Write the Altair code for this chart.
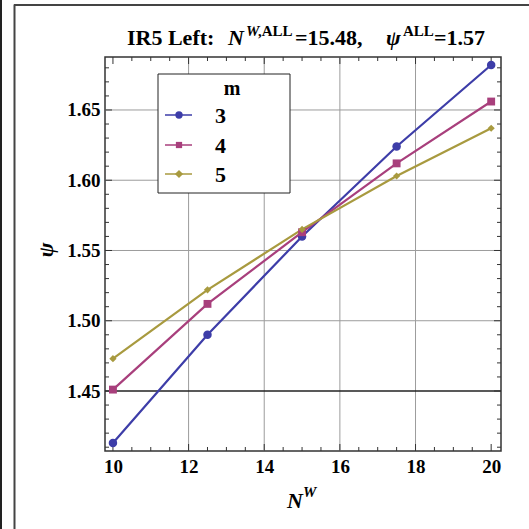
import altair as alt
import pandas as pd

# ---- data ----
n_w = [10, 12.5, 15, 17.5, 20]
psi_m3 = [1.413, 1.490, 1.560, 1.624, 1.682]
psi_m4 = [1.451, 1.512, 1.563, 1.612, 1.656]
psi_m5 = [1.473, 1.522, 1.565, 1.603, 1.637]
m_labels = ["3", "4", "5"]
colors = ["#3D3DA8", "#A83F7C", "#A89A3F"]
shapes = ["circle", "square", "diamond"]
sizes = [72, 52, 90]

x_major = [10, 12, 14, 16, 18, 20]
x_minor = [10.5, 11, 11.5, 12.5, 13, 13.5, 14.5, 15, 15.5, 16.5, 17, 17.5, 18.5, 19, 19.5]
x_grid = [12, 14, 16, 18]
y_major = [1.45, 1.50, 1.55, 1.60, 1.65]
y_minor = [1.41, 1.42, 1.43, 1.44, 1.46, 1.47, 1.48, 1.49, 1.51, 1.52, 1.53, 1.54,
           1.56, 1.57, 1.58, 1.59, 1.61, 1.62, 1.63, 1.64, 1.66, 1.67, 1.68]
y_grid = [1.50, 1.55, 1.60, 1.65]

W, H = 396, 394
L, T = 105, 57
FONT = "Liberation Serif"

rows = []
for m, vals in zip(m_labels, [psi_m3, psi_m4, psi_m5]):
    for n, p in zip(n_w, vals):
        rows.append({"m": m, "N": n, "psi": p})
df = pd.DataFrame(rows)

xs = alt.Scale(domain=[9.79, 20.26], nice=False, zero=False)
ys = alt.Scale(domain=[1.4073, 1.6877], nice=False, zero=False)
x_axis = alt.Axis(values=x_major, format="d", labelFont=FONT, labelFontWeight="bold",
                  labelFontSize=19, labelColor="black", tickSize=0, domain=False,
                  grid=False, title=None, labelPadding=6, labelFlush=False)
y_axis = alt.Axis(values=y_major, format=".2f", labelFont=FONT, labelFontWeight="bold",
                  labelFontSize=19, labelColor="black", tickSize=0, domain=False,
                  grid=False, title=None, labelPadding=5)

def X(f):
    return alt.X(f, type="quantitative", scale=xs, axis=x_axis)

def Y(f):
    return alt.Y(f, type="quantitative", scale=ys, axis=y_axis)

cscale = alt.Scale(domain=m_labels, range=colors)
one = pd.DataFrame({"k": [0]})

def px(a):
    return a - L

def py(a):
    return a - T

layers = []
# grid
layers.append(alt.Chart(pd.DataFrame({"v": x_grid})).mark_rule(color="#9c9c9c", strokeWidth=1).encode(x=X("v")))
layers.append(alt.Chart(pd.DataFrame({"v": y_grid})).mark_rule(color="#9c9c9c", strokeWidth=1).encode(y=Y("v")))
layers.append(alt.Chart(pd.DataFrame({"v": [1.45]})).mark_rule(color="#222", strokeWidth=1.3).encode(y=Y("v")))

# ticks
def xticks(vals, ln):
    d = pd.DataFrame({"v": vals})
    return [alt.Chart(d).mark_rule(color="#333", strokeWidth=1).encode(x=X("v"), y=alt.value(H), y2=alt.value(H - ln)),
            alt.Chart(d).mark_rule(color="#333", strokeWidth=1).encode(x=X("v"), y=alt.value(0), y2=alt.value(ln))]

def yticks(vals, ln):
    d = pd.DataFrame({"v": vals})
    return [alt.Chart(d).mark_rule(color="#333", strokeWidth=1).encode(y=Y("v"), x=alt.value(0), x2=alt.value(ln)),
            alt.Chart(d).mark_rule(color="#333", strokeWidth=1).encode(y=Y("v"), x=alt.value(W), x2=alt.value(W - ln))]

layers += xticks(x_major, 7) + xticks(x_minor, 4) + yticks(y_major, 7) + yticks(y_minor, 4)

# series
layers.append(alt.Chart(df).mark_line(strokeWidth=2.2).encode(
    x=X("N"), y=Y("psi"), color=alt.Color("m:N", scale=cscale, legend=None)))
layers.append(alt.Chart(df).mark_point(filled=True, opacity=1).encode(
    x=X("N"), y=Y("psi"),
    color=alt.Color("m:N", scale=cscale, legend=None),
    shape=alt.Shape("m:N", scale=alt.Scale(domain=m_labels, range=shapes), legend=None),
    size=alt.Size("m:N", scale=alt.Scale(domain=m_labels, range=sizes), legend=None)))

# legend
layers.append(alt.Chart(one).mark_rect(fill="white", stroke="#222", strokeWidth=1).encode(
    x=alt.value(px(158)), x2=alt.value(px(290)), y=alt.value(py(74)), y2=alt.value(py(193))))

def txt(s, ax, ay, size, italic=False, bold=True, align="left", angle=0, baseline="alphabetic"):
    kw = dict(text=s, font=FONT, fontSize=size, fontWeight="bold" if bold else "normal",
              fontStyle="italic" if italic else "normal", align=align, baseline=baseline,
              color="black")
    if angle:
        kw["angle"] = angle
    return alt.Chart(one).mark_text(**kw).encode(x=alt.value(px(ax)), y=alt.value(py(ay)))

layers.append(txt("m", 232, 95, 20, align="center"))
for i, (m, c, s, sz) in enumerate(zip(m_labels, colors, shapes, sizes)):
    yy = [115, 145, 174][i]
    layers.append(alt.Chart(one).mark_rule(color=c, strokeWidth=1.5).encode(
        x=alt.value(px(165)), x2=alt.value(px(192)), y=alt.value(py(yy))))
    layers.append(alt.Chart(one).mark_point(shape=s, filled=True, opacity=1, color=c, size=sz * 0.75).encode(
        x=alt.value(px(179)), y=alt.value(py(yy))))
    layers.append(txt(m, 215, yy + 8, 22))

# title pieces
layers.append(txt("IR5 Left:", 127, 45, 22))
layers.append(txt("N", 228, 45, 22, italic=True))
layers.append(txt("W", 246, 36, 15, italic=True))
layers.append(txt(",ALL", 258, 36, 15))
layers.append(txt("=15.48,", 295, 45, 22))
layers.append(txt("ψ", 386, 45, 22, italic=True))
layers.append(txt("ALL", 403, 36, 15))
layers.append(txt("=1.57", 434, 45, 22))

# axis titles
layers.append(txt("N", 287, 508, 22, italic=True))
layers.append(txt("W", 303, 497, 15, italic=True))
layers.append(txt("ψ", 46, 250, 22, italic=True, align="center", angle=270, baseline="middle"))

# outer panel border
layers.append(alt.Chart(one).mark_rule(color="#222", strokeWidth=2).encode(
    x=alt.value(px(1)), y=alt.value(py(0)), y2=alt.value(py(529))))
layers.append(alt.Chart(one).mark_rule(color="#444", strokeWidth=2).encode(
    x=alt.value(px(14.5)), y=alt.value(py(4.5)), y2=alt.value(py(529))))
layers.append(alt.Chart(one).mark_rule(color="#444", strokeWidth=2).encode(
    x=alt.value(px(14)), x2=alt.value(px(529)), y=alt.value(py(5))))

chart = alt.layer(*layers).properties(
    width=W, height=H, autosize="none",
    padding={"left": L, "top": T, "right": 529 - L - W, "bottom": 529 - T - H},
    background="white",
).configure_view(stroke="#333", strokeWidth=1.5)

chart.save("out.html", embed_options={"renderer": "svg", "actions": False})
